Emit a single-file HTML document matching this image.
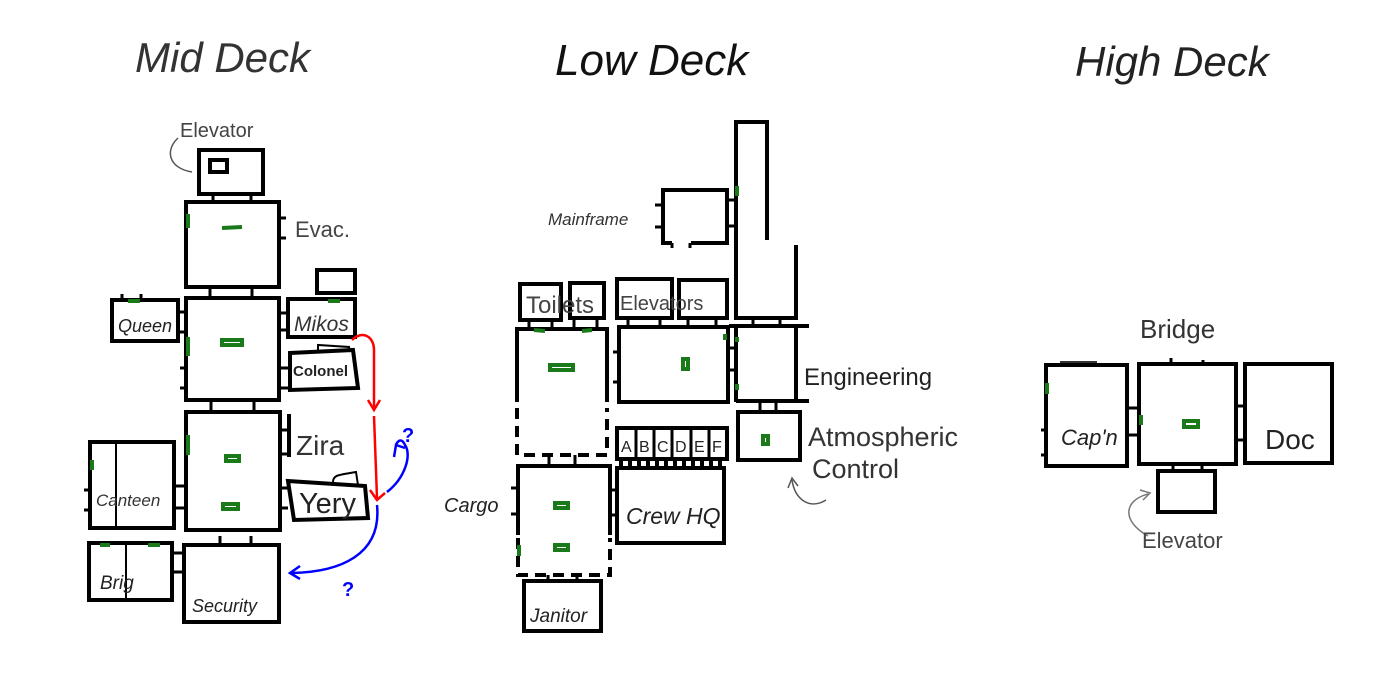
<!DOCTYPE html>
<html><head><meta charset="utf-8"><style>
html,body{margin:0;padding:0;background:#fff;}
svg{display:block}
text{font-family:"Liberation Sans",sans-serif;fill:#222}
.b{fill:none;stroke:#000;stroke-width:4}
.t{stroke:#000;stroke-width:3}
.g{fill:none;stroke:#1a7a1a;stroke-width:4}
</style></head><body>
<svg width="1400" height="700" viewBox="0 0 1400 700" xmlns="http://www.w3.org/2000/svg">
<rect width="1400" height="700" fill="#fff"/>
<!-- titles -->
<text x="135" y="72" font-size="42" font-style="italic" style="fill:#333">Mid Deck</text>
<text x="555" y="75" font-size="44" font-style="italic" style="fill:#111">Low Deck</text>
<text x="1075" y="76" font-size="42" font-style="italic" style="fill:#222">High Deck</text>

<!-- MID DECK -->
<text x="180" y="137" font-size="20" style="fill:#444">Elevator</text>
<path d="M178,138 C165,150 168,168 192,172" fill="none" stroke="#555" stroke-width="1.5"/>
<rect class="b" x="199" y="150" width="64" height="44"/>
<rect class="b" x="210" y="160" width="17" height="12" stroke-width="3"/>
<line class="t" x1="213" y1="194" x2="213" y2="202"/><line class="t" x1="251" y1="194" x2="251" y2="202"/>
<rect class="b" x="186" y="202" width="93" height="85"/>
<line class="g" x1="222" y1="228" x2="242" y2="227" stroke-width="5"/>
<line class="g" x1="188" y1="214" x2="188" y2="228"/>
<line class="t" x1="279" y1="218" x2="286" y2="218"/><line class="t" x1="279" y1="238" x2="286" y2="238"/>
<text x="295" y="237" font-size="22" style="fill:#444">Evac.</text>
<line class="t" x1="210" y1="287" x2="210" y2="298"/><line class="t" x1="252" y1="287" x2="252" y2="298"/>
<rect class="b" x="186" y="298" width="93" height="102"/>
<rect class="g" x="222" y="340" width="20" height="5" stroke-width="3"/>
<line class="g" x1="188" y1="337" x2="188" y2="356"/>
<line class="t" x1="180" y1="368" x2="186" y2="368"/><line class="t" x1="180" y1="388" x2="186" y2="388"/>
<rect class="b" x="112" y="300" width="66" height="41"/>
<line class="t" x1="122" y1="294" x2="122" y2="300"/><line class="t" x1="141" y1="294" x2="141" y2="300"/>
<line class="g" x1="128" y1="301" x2="140" y2="301"/>
<text x="118" y="332" font-size="18" font-style="italic">Queen</text>
<line class="t" x1="178" y1="312" x2="186" y2="312"/><line class="t" x1="178" y1="332" x2="186" y2="332"/>
<rect class="b" x="288" y="299" width="67" height="38"/>
<rect class="b" x="317" y="270" width="38" height="23"/>
<line class="g" x1="328" y1="301" x2="340" y2="301"/>
<text x="294" y="331" font-size="21" font-style="italic" style="fill:#333">Mikos</text>
<line class="t" x1="279" y1="313" x2="288" y2="313"/><line class="t" x1="279" y1="330" x2="288" y2="330"/>
<path class="b" d="M290,353 L353,350 L358,388 L290,390 Z" stroke-width="3"/>
<path d="M318,352 L318,345 L349,347 L350,352" fill="none" stroke="#000" stroke-width="2"/>
<text x="293" y="376" font-size="15" font-weight="bold">Colonel</text>
<line class="t" x1="279" y1="368" x2="288" y2="368"/><line class="t" x1="279" y1="388" x2="288" y2="388"/>
<line class="t" x1="211" y1="400" x2="211" y2="412"/><line class="t" x1="254" y1="400" x2="254" y2="412"/>
<rect class="b" x="186" y="412" width="94" height="118"/>
<line class="g" x1="188" y1="435" x2="188" y2="455"/>
<rect class="g" x="226" y="456" width="13" height="5" stroke-width="3"/>
<rect class="g" x="223" y="504" width="15" height="5" stroke-width="3"/>
<line x1="289" y1="414" x2="289" y2="457" stroke="#000" stroke-width="4"/>
<line class="t" x1="280" y1="430" x2="288" y2="430"/><line class="t" x1="280" y1="454" x2="288" y2="454"/>
<text x="296" y="455" font-size="28" style="fill:#333">Zira</text>
<path class="b" d="M288,481 L365,486 L368,518 L294,520 Z" stroke-width="3"/>
<path d="M333,482 C333,475 338,475 356,472 L358,485" fill="none" stroke="#000" stroke-width="2"/>
<text x="299" y="513" font-size="29">Yery</text>
<line class="t" x1="280" y1="488" x2="288" y2="488"/><line class="t" x1="280" y1="508" x2="288" y2="508"/>
<rect class="b" x="90" y="442" width="84" height="86"/>
<line x1="116" y1="440" x2="116" y2="528" stroke="#000" stroke-width="2"/>
<line class="g" x1="92" y1="460" x2="92" y2="470"/>
<text x="96" y="506" font-size="17" font-style="italic" style="fill:#333">Canteen</text>
<line class="t" x1="84" y1="490" x2="90" y2="490"/><line class="t" x1="84" y1="510" x2="90" y2="510"/>
<line class="t" x1="174" y1="486" x2="186" y2="486"/><line class="t" x1="174" y1="508" x2="186" y2="508"/>
<line class="t" x1="220" y1="536" x2="220" y2="545"/><line class="t" x1="251" y1="536" x2="251" y2="545"/>
<rect class="b" x="89" y="543" width="83" height="57"/>
<line x1="126" y1="543" x2="126" y2="600" stroke="#000" stroke-width="2"/>
<line class="g" x1="100" y1="545" x2="110" y2="545"/><line class="g" x1="148" y1="545" x2="160" y2="545"/>
<text x="100" y="589" font-size="19" font-style="italic">Brig</text>
<line class="t" x1="172" y1="553" x2="184" y2="553"/><line class="t" x1="172" y1="572" x2="184" y2="572"/>
<rect class="b" x="184" y="545" width="95" height="77"/>
<text x="192" y="612" font-size="18" font-style="italic">Security</text>
<!-- red -->
<path d="M352,340 C362,330 374,336 374,350 L374,408" fill="none" stroke="#f00" stroke-width="2.5"/>
<path d="M368,400 L374,410 L380,400" fill="none" stroke="#f00" stroke-width="2.5"/>
<path d="M374,416 L377,498" fill="none" stroke="#f00" stroke-width="2.5"/>
<path d="M370,490 L377,500 L385,493" fill="none" stroke="#f00" stroke-width="2.5"/>
<!-- blue -->
<path d="M387,492 C405,478 412,455 405,445 C402,438 398,440 396,445" fill="none" stroke="#00f" stroke-width="2.5"/>
<path d="M394,457 L396,445 L405,448" fill="none" stroke="#00f" stroke-width="2.5"/>
<text x="402" y="442" font-size="20" font-weight="bold" style="fill:#00f">?</text>
<path d="M377,505 C382,555 340,572 292,573" fill="none" stroke="#00f" stroke-width="2.5"/>
<path d="M300,566 L290,573 L300,579" fill="none" stroke="#00f" stroke-width="2.5"/>
<text x="342" y="596" font-size="20" font-weight="bold" style="fill:#00f">?</text>

<!-- LOW DECK -->
<path class="b" d="M767,240 L767,122 L736,122 L736,318 L796,318 L796,245"/>
<line class="g" x1="737" y1="186" x2="737" y2="196"/>
<path class="b" d="M672,243 L663,243 L663,190 L727,190 L727,243 L691,243"/>
<line class="t" x1="672" y1="243" x2="672" y2="248"/><line class="t" x1="690" y1="243" x2="690" y2="248"/>
<line class="t" x1="727" y1="200" x2="736" y2="200"/><line class="t" x1="727" y1="226" x2="736" y2="226"/>
<line class="t" x1="655" y1="205" x2="663" y2="205"/><line class="t" x1="655" y1="227" x2="663" y2="227"/>
<text x="548" y="225" font-size="17" font-style="italic" style="fill:#333">Mainframe</text>
<rect class="b" x="520" y="284" width="41" height="36"/>
<rect class="b" x="570" y="283" width="34" height="35"/>
<text x="526" y="313" font-size="24" style="fill:#444">Toilets</text>
<rect class="b" x="617" y="279" width="55" height="39"/>
<rect class="b" x="679" y="280" width="48" height="38"/>
<text x="620" y="310" font-size="20" style="fill:#444">Elevators</text>
<line class="t" x1="529" y1="320" x2="529" y2="328"/><line class="t" x1="552" y1="320" x2="552" y2="328"/>
<line class="t" x1="574" y1="320" x2="574" y2="328"/><line class="t" x1="597" y1="320" x2="597" y2="328"/>
<line class="t" x1="628" y1="318" x2="628" y2="326"/><line class="t" x1="660" y1="318" x2="660" y2="326"/>
<line class="t" x1="688" y1="318" x2="688" y2="326"/><line class="t" x1="716" y1="318" x2="716" y2="326"/>
<line class="t" x1="753" y1="318" x2="753" y2="326"/><line class="t" x1="780" y1="318" x2="780" y2="326"/>
<path class="b" d="M517,402 L517,329 L607,329 L607,402"/>
<path class="b" d="M517,408 L517,455 L607,455 L607,408" stroke-dasharray="11,7"/>
<line class="g" x1="534" y1="330" x2="545" y2="331"/><line class="g" x1="582" y1="331" x2="592" y2="330"/>
<rect class="g" x="550" y="365" width="23" height="5" stroke-width="3"/>
<rect class="b" x="619" y="327" width="109" height="75"/>
<line class="t" x1="613" y1="352" x2="619" y2="352"/><line class="t" x1="613" y1="382" x2="619" y2="382"/>
<rect class="g" x="683" y="359" width="5" height="10" stroke-width="3"/>
<line class="g" x1="725" y1="334" x2="725" y2="340"/>
<path class="b" d="M736,402 L736,326 M729,326 L809,326 M796,326 L796,401 M736,401 L809,401"/>
<line class="g" x1="737" y1="337" x2="737" y2="342"/><line class="g" x1="737" y1="384" x2="737" y2="390"/>
<line class="t" x1="728" y1="348" x2="736" y2="348"/><line class="t" x1="728" y1="370" x2="736" y2="370"/>
<text x="804" y="385" font-size="24" style="fill:#222">Engineering</text>
<line class="t" x1="760" y1="401" x2="760" y2="412"/><line class="t" x1="776" y1="401" x2="776" y2="412"/>
<path class="b" d="M800,460 L738,460 L738,412 L800,412 L800,462"/>
<rect class="g" x="763" y="436" width="5" height="8" stroke-width="3"/>
<text x="808" y="446" font-size="27" style="fill:#333">Atmospheric</text>
<text x="812" y="478" font-size="27" style="fill:#333">Control</text>
<path d="M826,500 C810,510 795,500 792,480" fill="none" stroke="#555" stroke-width="1.5"/>
<path d="M788,488 L792,478 L798,486" fill="none" stroke="#555" stroke-width="1.5"/>
<rect class="b" x="617" y="428" width="110" height="31" stroke-width="3"/>
<g stroke="#000" stroke-width="3"><line x1="636" y1="428" x2="636" y2="459"/><line x1="654" y1="428" x2="654" y2="459"/><line x1="672" y1="428" x2="672" y2="459"/><line x1="691" y1="428" x2="691" y2="459"/><line x1="709" y1="428" x2="709" y2="459"/></g>
<g font-size="16"><text x="621" y="452">A</text><text x="639" y="452">B</text><text x="657" y="452">C</text><text x="675" y="452">D</text><text x="694" y="452">E</text><text x="712" y="452">F</text></g>
<line x1="619" y1="464" x2="724" y2="464" stroke="#000" stroke-width="6" stroke-dasharray="4,5"/>
<rect class="b" x="617" y="468" width="107" height="75"/>
<text x="626" y="524" font-size="23" font-style="italic">Crew HQ</text>
<line class="t" x1="610" y1="490" x2="617" y2="490"/><line class="t" x1="610" y1="515" x2="617" y2="515"/>
<line class="t" x1="549" y1="455" x2="549" y2="466"/><line class="t" x1="575" y1="455" x2="575" y2="466"/>
<path class="b" d="M518,535 L518,466 L610,466 L610,535"/>
<path class="b" d="M518,538 L518,575 L610,575 L610,538" stroke-dasharray="11,7"/>
<rect class="g" x="555" y="503" width="13" height="5" stroke-width="3"/>
<rect class="g" x="555" y="545" width="13" height="5" stroke-width="3"/>
<line class="g" x1="519" y1="545" x2="519" y2="556"/>
<line class="t" x1="511" y1="488" x2="518" y2="488"/><line class="t" x1="511" y1="514" x2="518" y2="514"/>
<text x="444" y="512" font-size="20" font-style="italic">Cargo</text>
<line class="t" x1="548" y1="575" x2="548" y2="582"/><line class="t" x1="577" y1="575" x2="577" y2="582"/>
<rect class="b" x="524" y="581" width="77" height="50"/>
<text x="530" y="622" font-size="19" font-style="italic">Janitor</text>

<!-- HIGH DECK -->
<text x="1140" y="338" font-size="26" style="fill:#333">Bridge</text>
<line x1="1060" y1="362" x2="1097" y2="362" stroke="#333" stroke-width="2"/>
<rect class="b" x="1046" y="365" width="81" height="101"/>
<line class="g" x1="1047" y1="383" x2="1047" y2="394"/>
<text x="1061" y="445" font-size="22" font-style="italic">Cap'n</text>
<line class="t" x1="1041" y1="430" x2="1046" y2="430"/><line class="t" x1="1041" y1="455" x2="1046" y2="455"/>
<line class="t" x1="1127" y1="408" x2="1137" y2="408"/><line class="t" x1="1127" y1="435" x2="1137" y2="435"/>
<rect class="b" x="1139" y="364" width="97" height="100"/>
<line class="t" x1="1171" y1="358" x2="1171" y2="364"/><line class="t" x1="1203" y1="360" x2="1203" y2="364"/>
<line class="g" x1="1141" y1="415" x2="1141" y2="425"/>
<rect class="g" x="1184" y="421" width="14" height="6" stroke-width="3"/>
<line class="t" x1="1236" y1="406" x2="1244" y2="406"/><line class="t" x1="1236" y1="440" x2="1244" y2="440"/>
<rect class="b" x="1245" y="364" width="87" height="99"/>
<text x="1265" y="449" font-size="28" style="fill:#222">Doc</text>
<line class="t" x1="1173" y1="464" x2="1173" y2="471"/><line class="t" x1="1202" y1="464" x2="1202" y2="471"/>
<rect class="b" x="1158" y="471" width="57" height="41"/>
<path d="M1148,536 C1120,520 1125,500 1148,494" fill="none" stroke="#777" stroke-width="1.5"/>
<path d="M1140,490 L1150,493 L1143,500" fill="none" stroke="#777" stroke-width="1.5"/>
<text x="1142" y="548" font-size="22" style="fill:#444">Elevator</text>
</svg>
</body></html>
